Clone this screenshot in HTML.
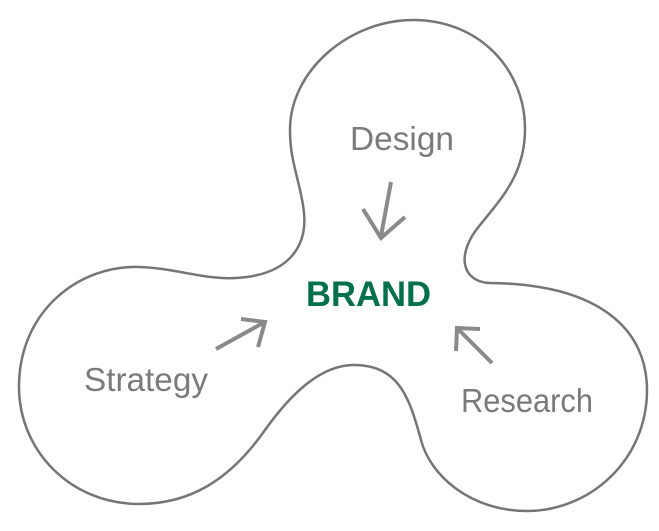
<!DOCTYPE html>
<html><head><style>
html,body{margin:0;padding:0;background:#fff;}
svg{display:block;}
text{font-family:"Liberation Sans",sans-serif;}
</style></head><body>
<svg width="659" height="531" viewBox="0 0 659 531">
<path d="M413,20 C480,20 525,70 525,129 C525,175 500,200 480,225 C455,255 462,282 490,283 C600,284 647,330 647,390 C647,460 590,511 527,511 C470,511 430,475 421,440 C410,400 400,365 354,365 C320,365 290,395 265,430 C230,480 190,504 139,504 C70,504 19,450 19,387 C19,310 80,265 139,267 C175,268 205,280 236,278 C290,275 310,245 303,205 C298,175 290,160 290,130 C290,70 350,20 413,20 Z" fill="none" stroke="#757575" stroke-width="2.5"/>
<g stroke="#8a8a8a" stroke-width="4" fill="none" stroke-linecap="butt">
<line x1="391" y1="182" x2="381" y2="236"/>
<polyline points="363,209 381,238 405,217"/>
<line x1="216" y1="349" x2="263" y2="323"/>
<polyline points="241,319 265,322 258,347"/>
<line x1="492" y1="363" x2="459" y2="330"/>
<polyline points="480,329 457,328 456,351"/>
</g>
<text x="350" y="150" font-size="33" fill="#7a7a7a" textLength="104" lengthAdjust="spacingAndGlyphs">Design</text>
<text x="306" y="306" font-size="35" font-weight="bold" fill="#00704a" textLength="125" lengthAdjust="spacingAndGlyphs">BRAND</text>
<text x="84" y="391" font-size="33" fill="#7a7a7a" textLength="124" lengthAdjust="spacingAndGlyphs">Strategy</text>
<text x="461" y="412" font-size="33" fill="#7a7a7a" textLength="132" lengthAdjust="spacingAndGlyphs">Research</text>
</svg>
</body></html>
